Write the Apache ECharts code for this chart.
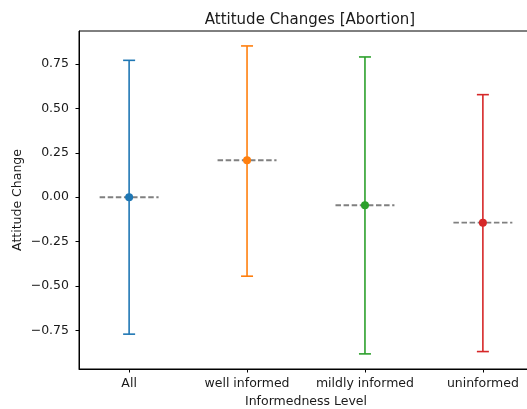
<!DOCTYPE html>
<html>
<head>
<meta charset="utf-8">
<script src="https://cdn.jsdelivr.net/npm/echarts@6/dist/echarts.min.js"></script>
<style>
  html, body { margin: 0; padding: 0; background: #fff; }
  #chart { width: 527px; height: 409px; }
</style>
</head>
<body>
<div id="chart"></div>
<script>
// values
const categories = ['All', 'well informed', 'mildly informed', 'uninformed']
const means = [0.0, 0.208, -0.045, -0.143]
const lower = [-0.77, -0.444, -0.881, -0.868]
const upper = [0.77, 0.851, 0.789, 0.577]
const yTicks = [-0.75, -0.5, -0.25, 0, 0.25, 0.5, 0.75]
const xTicks = [0, 1, 2, 3]

const colors = ['#1f77b4', '#ff7f0e', '#2ca02c', '#d62728']
const font = 'DejaVu Sans'
const labelSize = 12.5
const textColor = '#1a1a1a'

const chart = echarts.init(document.getElementById('chart'))

const rows = categories.map((c, i) => [i, means[i], lower[i], upper[i]])

const option = {
  animation: false,
  title: {
    text: 'Attitude Changes [Abortion]',
    left: 305,
    top: 8,
    textAlign: 'center',
    textStyle: { fontFamily: font, fontSize: 15, fontWeight: 'normal', color: textColor }
  },
  grid: {
    left: 79,
    top: 31,
    right: -6,
    bottom: 40,
    outerBoundsMode: 'none',
    show: true,
    borderColor: '#000',
    borderWidth: 1
  },
  xAxis: {
    type: 'value',
    min: -0.425,
    max: 3.425,
    name: 'Informedness Level',
    nameLocation: 'middle',
    nameGap: 26,
    nameMoveOverlap: false,
    nameTextStyle: { fontFamily: font, fontSize: labelSize, color: textColor },
    splitLine: { show: false },
    axisLine: { show: true, onZero: false, lineStyle: { color: '#000', width: 1 } },
    axisTick: { show: true, length: 3.5, customValues: xTicks, lineStyle: { color: '#000' } },
    axisLabel: {
      customValues: xTicks,
      margin: 8,
      fontFamily: font,
      fontSize: labelSize,
      color: textColor,
      formatter: v => categories[Math.round(v)]
    }
  },
  yAxis: {
    type: 'value',
    min: -0.966,
    max: 0.935,
    name: 'Attitude Change',
    nameLocation: 'middle',
    nameGap: 55,
    nameMoveOverlap: false,
    nameTextStyle: { fontFamily: font, fontSize: labelSize, color: textColor },
    splitLine: { show: false },
    axisLine: { show: true, onZero: false, lineStyle: { color: '#000', width: 1 } },
    axisTick: { show: true, length: 3.5, customValues: yTicks, lineStyle: { color: '#000' } },
    axisLabel: {
      customValues: yTicks,
      margin: 10,
      fontFamily: font,
      fontSize: labelSize,
      color: textColor,
      formatter: v => v.toFixed(2).replace('-', '\u2212')
    }
  },
  series: [
    {
      // dashed reference line at each group's mean
      type: 'custom',
      data: rows,
      z: 1,
      renderItem: (params, api) => {
        const x = api.value(0)
        const y = api.value(1)
        const a = api.coord([x - 0.25, y])
        const b = api.coord([x + 0.25, y])
        return {
          type: 'line',
          shape: { x1: a[0], y1: a[1], x2: b[0], y2: b[1] },
          style: { stroke: '#808080', lineWidth: 1.8, lineDash: [5.5, 2.6] }
        }
      }
    },
    {
      // error bars with caps
      type: 'custom',
      data: rows,
      z: 2,
      renderItem: (params, api) => {
        const i = params.dataIndex
        const x = api.value(0)
        const lo = api.coord([x, api.value(2)])
        const hi = api.coord([x, api.value(3)])
        const style = { stroke: colors[i], lineWidth: 1.6 }
        const cap = 6
        return {
          type: 'group',
          children: [
            { type: 'line', shape: { x1: lo[0], y1: lo[1], x2: hi[0], y2: hi[1] }, style },
            { type: 'line', shape: { x1: lo[0] - cap, y1: lo[1], x2: lo[0] + cap, y2: lo[1] }, style },
            { type: 'line', shape: { x1: hi[0] - cap, y1: hi[1], x2: hi[0] + cap, y2: hi[1] }, style }
          ]
        }
      }
    },
    {
      type: 'scatter',
      z: 3,
      symbol: 'circle',
      symbolSize: 8,
      itemStyle: { opacity: 1 },
      data: rows.map((r, i) => ({ value: [r[0], r[1]], itemStyle: { color: colors[i], opacity: 1 } }))
    }
  ]
}

chart.setOption(option)
</script>
</body>
</html>
